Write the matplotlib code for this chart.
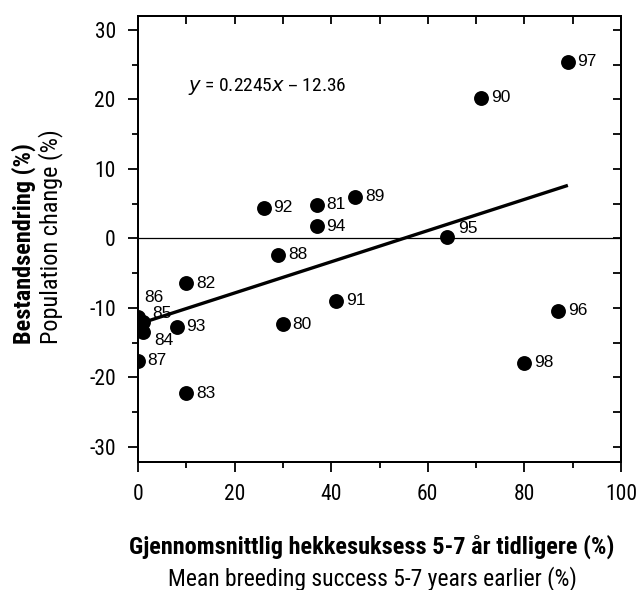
import matplotlib
matplotlib.use("Agg")
import matplotlib.pyplot as plt
from matplotlib import font_manager
from matplotlib.ticker import MultipleLocator

# Breeding success 5-7 years earlier (%) and population change (%) per year
years = ["80", "81", "82", "83", "84", "85", "86", "87", "88", "89", "90",
         "91", "92", "93", "94", "95", "96", "97", "98"]
breeding = [30, 37, 10, 10, 1, 1, 0, 0, 29, 45, 71,
            41, 26, 8, 37, 64, 87, 89, 80]
change = [-12.4, 4.8, -6.5, -22.3, -13.5, -12.0, -11.3, -17.6, -2.4, 6.0, 20.2,
          -9.0, 4.4, -12.7, 1.7, 0.2, -10.4, 25.4, -17.9]

slope = 0.2245
intercept = -12.36

plt.rcParams["axes.unicode_minus"] = False

installed = {f.name for f in font_manager.fontManager.ttflist}
narrow_choices = ["Arial Narrow", "Liberation Sans Narrow", "Roboto Condensed",
                  "PT Sans Narrow", "Archivo Narrow"]
narrow = next((n for n in narrow_choices if n in installed), "DejaVu Sans")
regular = "Liberation Sans"

W, H = 637, 590
fig = plt.figure(figsize=(W / 100, H / 100), dpi=100)
ax = fig.add_axes([138 / W, 1 - 462 / H, (621 - 138) / W, (462 - 16) / H])

ax.set_xlim(0, 100)
ax.set_ylim(-32.2, 32.0)

# zero reference line
ax.axhline(0, color="black", lw=0.9, zorder=1)

# fitted regression line across the observed range
x0, x1 = min(breeding), max(breeding)
ax.plot([x0, x1], [slope * x0 + intercept, slope * x1 + intercept],
        color="black", lw=2.4, solid_capstyle="butt", zorder=2)

ax.scatter(breeding, change, s=115, color="black", zorder=3, linewidths=0)

# year labels, nudged where points crowd together
offsets = {"86": (4.3, 14), "85": (7, 6), "84": (8, -6), "95": (8, 6)}
for yr, xv, yv in zip(years, breeding, change):
    dx, dy = offsets.get(yr, (7, 0))
    ax.annotate(yr, (xv, yv), xytext=(dx, dy), textcoords="offset points",
                ha="left", va="center", fontsize=12.5, family=regular, zorder=4)

ax.text(0.103, 0.842, r"$\mathit{y}$ = 0.2245$\mathit{x}$ – 12.36",
        transform=ax.transAxes, fontsize=14, family=narrow, va="center", ha="left")

for s in ax.spines.values():
    s.set_linewidth(1.4)

ax.xaxis.set_major_locator(MultipleLocator(20))
ax.xaxis.set_minor_locator(MultipleLocator(10))
ax.yaxis.set_major_locator(MultipleLocator(10))
ax.yaxis.set_minor_locator(MultipleLocator(5))
ax.tick_params(which="major", direction="out", length=7, width=1.3, labelsize=15.5)
ax.tick_params(axis="y", which="major", pad=9)
ax.tick_params(axis="x", which="major", pad=9)
ax.tick_params(which="minor", direction="out", length=4.5, width=1.3)
ax.tick_params(axis="x", which="both", top=False)
ax.tick_params(axis="y", which="both", right=False)
for lab in ax.get_xticklabels() + ax.get_yticklabels():
    lab.set_family(narrow)

# inward ticks on the top and right frames
axt = ax.twiny()
axt.set_xlim(ax.get_xlim())
axt.xaxis.set_major_locator(MultipleLocator(10))
axt.tick_params(axis="x", direction="in", length=6, width=1.3, labeltop=False)
axr = ax.twinx()
axr.set_ylim(ax.get_ylim())
axr.yaxis.set_major_locator(MultipleLocator(5))
axr.tick_params(axis="y", direction="in", length=6, width=1.3, labelright=False)
for a in (axt, axr):
    for s in a.spines.values():
        s.set_linewidth(1.4)

fig.text(372 / W, 1 - 554 / H, "Gjennomsnittlig hekkesuksess 5-7 år tidligere (%)",
         ha="center", va="baseline", fontsize=17.5, fontweight="bold", family=narrow)
fig.text(372 / W, 1 - 585 / H, "Mean breeding success 5-7 years earlier (%)",
         ha="center", va="baseline", fontsize=17, family=narrow)
fig.text(24 / W, 1 - 344 / H, "Bestandsendring (%)", rotation=90,
         ha="center", va="bottom", fontsize=17.5, fontweight="bold", family=narrow)
fig.text(51 / W, 1 - 344 / H, "Population change (%)", rotation=90,
         ha="center", va="bottom", fontsize=17.5, family=narrow)

fig.savefig("out.png", dpi=100)
